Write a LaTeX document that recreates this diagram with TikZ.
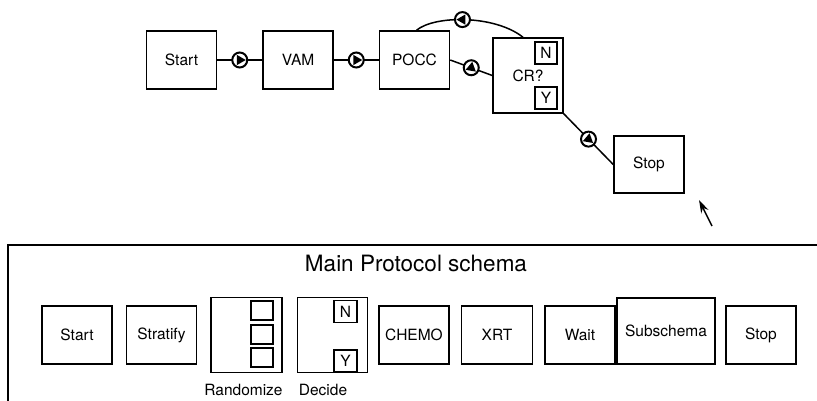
\documentclass[tikz,border=0pt]{standalone}
\usepackage{fontspec}
\setmainfont{TeX Gyre Heros}
\usetikzlibrary{arrows.meta,positioning,shapes.geometric}

\begin{document}
\begin{tikzpicture}[x=1pt,y=-1pt,font=\fontsize{15.5}{18}\selectfont,
  box/.style={draw,line width=1.5pt,minimum width=70pt,minimum height=58pt,inner sep=0pt},
  tall/.style={box,minimum height=75pt},
  tag/.style={draw,line width=1.5pt,minimum width=22pt,minimum height=22pt,inner sep=0pt},
  slot/.style={draw,line width=1.3pt,minimum width=22pt,minimum height=19pt,inner sep=0pt},
  ring/.style={circle,draw,line width=2pt,fill=white,minimum size=15pt,inner sep=0pt},
  tri/.style={regular polygon,regular polygon sides=3,fill=black,minimum size=12pt,inner sep=0pt},
  link/.style={line width=1.5pt},
  lab/.style={inner sep=0pt}]
 \useasboundingbox (0,0) rectangle (817,401);
 % ---- top flow ----
 \node[box] (start) at (181.5,60) {Start};
 \node[box,right=45pt of start] (vam) {VAM};
 \node[box,right=45pt of vam] (pocc) {POCC};
 \node[tall] (cr) at (528,75.5) {CR?\hspace{10pt}};
 \node[tag] (crn) at (546,53) {N};
 \node[tag] (cry) at (546,98) {Y};
 \node[box,minimum height=57pt] (stop) at (649,164.5) {Stop};
 \draw[link] (start) -- node[ring] (f1) {} (vam);
 \draw[link] (vam) -- node[ring] (f2) {} (pocc);
 \draw[link] (pocc.east) -- node[ring] (f3) {} (cr.west);
 \draw[link] ([xshift=2pt]pocc.north) .. controls (435,15) and (495,15) .. node[ring,pos=0.47] (f4) {} ([xshift=-5pt]cr.north);
 \draw[link] (cr.south east) -- node[ring] (f5) {} (stop.west);
 \node[tri,shape border rotate=-90] (t1) at (f1) {};
 \node[tri,shape border rotate=-90] (t2) at (f2) {};
 \node[tri,shape border rotate=-10] (t3) at (f3) {};
 \node[tri,shape border rotate=90] (t4) at (f4) {};
 \node[tri,shape border rotate=110] (t5) at (f5) {};
 \coordinate (ptr) at (712,226);
 \coordinate (tip) at (699,200);
 \draw[line width=1.5pt,-{Stealth[length=13pt,width=8pt]}] (ptr) -- (tip);
 % ---- main protocol schema ----
 \draw[link] (8,401) -- (8,245) -- (817,245);
 \node[lab,font=\fontsize{22.5}{26}\selectfont] (title) at (416,263) {Main Protocol schema};
 \node[box] (bstart) at (77,335) {Start};
 \node[box,right=13pt of bstart] (strat) {Stratify};
 \node[tall,minimum width=71pt,right=13pt of strat] (rand) {};
 \foreach \y [count=\i] in {310.5,334.5,357.5}
   \node[slot] (rs\i) at (262,\y) {};
 \node[lab] (randl) at (243.5,390) {Randomize};
 \node[tall,right=14pt of rand] (dec) {};
 \node[tag,minimum width=23pt] (decn) at (345.5,311.5) {N};
 \node[tag,minimum width=23pt] (decy) at (345.5,361) {Y};
 \node[lab] (decl) at (323,390) {Decide};
 \node[box,right=10pt of dec] (chemo) {CHEMO};
 \node[box,minimum width=71pt,right=11pt of chemo] (xrt) {XRT};
 \node[box,right=11pt of xrt] (wait) {Wait};
 \node[box,minimum width=98pt,minimum height=66pt] (sub) at (666,331) {Subschema};
 \node[box] (bstop) at (761,335) {Stop};
\end{tikzpicture}
\end{document}
